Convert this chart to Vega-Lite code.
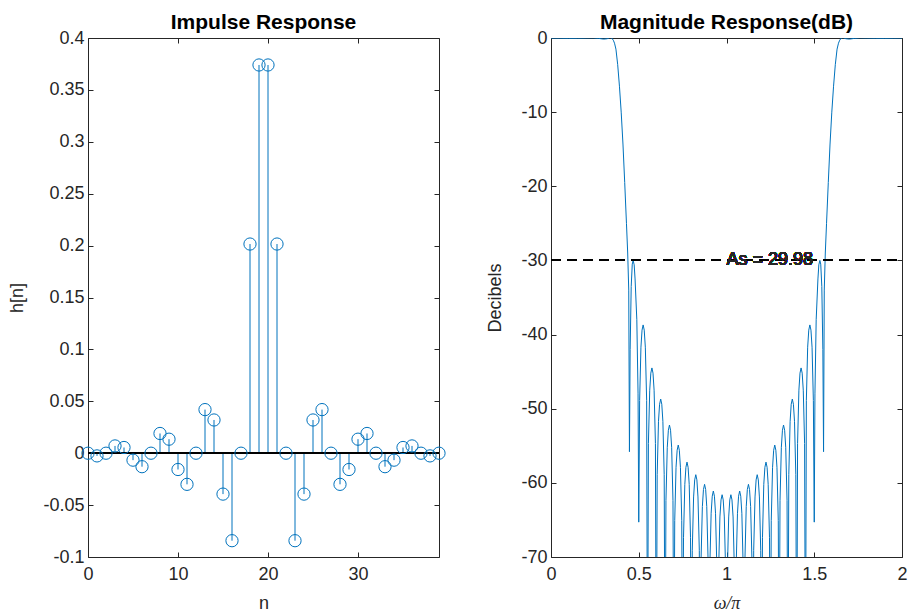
{
  "$schema": "https://vega.github.io/schema/vega-lite/v6.json",
  "background": "white",
  "padding": {"left": 8, "top": 12, "right": 2, "bottom": 1},
  "config": {
    "font": "Liberation Sans",
    "view": {"stroke": null},
    "axis": {
      "grid": false,
      "domainColor": "#262626",
      "domainWidth": 1,
      "tickColor": "#262626",
      "tickWidth": 1,
      "tickSize": -5,
      "labelColor": "#262626",
      "titleColor": "#262626",
      "labelFont": "Liberation Sans",
      "labelFontSize": 18,
      "titleFont": "Liberation Sans",
      "titleFontSize": 18,
      "titleFontWeight": "normal",
      "labelFlush": false
    },
    "axisX": {"labelPadding": 13, "titlePadding": 11, "labelFlush": false},
    "axisY": {"labelPadding": 9, "titlePadding": 16},
    "title": {"font": "Liberation Sans", "fontSize": 21, "fontWeight": "bold", "color": "#000000", "offset": -4},
    "concat": {"spacing": 38}
  },
  "datasets": {
    "h": [
      {"n": 0, "h": 0.0},
      {"n": 1, "h": -0.0026},
      {"n": 2, "h": 0.0},
      {"n": 3, "h": 0.007},
      {"n": 4, "h": 0.0055},
      {"n": 5, "h": -0.0067},
      {"n": 6, "h": -0.013},
      {"n": 7, "h": 0.0},
      {"n": 8, "h": 0.019},
      {"n": 9, "h": 0.0135},
      {"n": 10, "h": -0.0157},
      {"n": 11, "h": -0.030},
      {"n": 12, "h": 0.0},
      {"n": 13, "h": 0.042},
      {"n": 14, "h": 0.032},
      {"n": 15, "h": -0.0394},
      {"n": 16, "h": -0.0843},
      {"n": 17, "h": 0.0},
      {"n": 18, "h": 0.2015},
      {"n": 19, "h": 0.374},
      {"n": 20, "h": 0.374},
      {"n": 21, "h": 0.2015},
      {"n": 22, "h": 0.0},
      {"n": 23, "h": -0.0843},
      {"n": 24, "h": -0.0394},
      {"n": 25, "h": 0.032},
      {"n": 26, "h": 0.042},
      {"n": 27, "h": 0.0},
      {"n": 28, "h": -0.030},
      {"n": 29, "h": -0.0157},
      {"n": 30, "h": 0.0135},
      {"n": 31, "h": 0.019},
      {"n": 32, "h": 0.0},
      {"n": 33, "h": -0.013},
      {"n": 34, "h": -0.0067},
      {"n": 35, "h": 0.0055},
      {"n": 36, "h": 0.007},
      {"n": 37, "h": 0.0},
      {"n": 38, "h": -0.0026},
      {"n": 39, "h": 0.0}
    ],
    "mag": [
      {"w": 0, "db": 0}, {"w": 0.05, "db": -0.02}, {"w": 0.1, "db": -0.04}, {"w": 0.15, "db": -0.03},
      {"w": 0.2, "db": 0}, {"w": 0.24, "db": 0.02}, {"w": 0.27, "db": -0.05}, {"w": 0.3, "db": -0.15},
      {"w": 0.32, "db": -0.1}, {"w": 0.335, "db": 0.05}, {"w": 0.345, "db": 0.02}, {"w": 0.355, "db": -0.3},
      {"w": 0.362, "db": -0.7}, {"w": 0.37, "db": -1.5}, {"w": 0.38, "db": -3.6}, {"w": 0.39, "db": -6.5},
      {"w": 0.4, "db": -10}, {"w": 0.41, "db": -14.3}, {"w": 0.42, "db": -19.5}, {"w": 0.43, "db": -25},
      {"w": 0.437, "db": -29}, {"w": 0.443, "db": -34}, {"w": 0.447, "db": -55.8},
      {"w": 0.451, "db": -42}, {"w": 0.457, "db": -33.5}, {"w": 0.463, "db": -30.5}, {"w": 0.468, "db": -30},
      {"w": 0.474, "db": -30.6}, {"w": 0.479, "db": -32.5}, {"w": 0.489, "db": -38}, {"w": 0.496, "db": -48},
      {"w": 0.5, "db": -65.3},
      {"w": 0.505, "db": -48.9}, {"w": 0.5125, "db": -41.7}, {"w": 0.51875, "db": -39.4}, {"w": 0.525, "db": -38.7}, {"w": 0.53125, "db": -39.4}, {"w": 0.5375, "db": -41.7}, {"w": 0.545, "db": -48.9}, {"w": 0.55, "db": -90},
      {"w": 0.555, "db": -54.7}, {"w": 0.5625, "db": -47.5}, {"w": 0.56875, "db": -45.2}, {"w": 0.575, "db": -44.5}, {"w": 0.58125, "db": -45.2}, {"w": 0.5875, "db": -47.5}, {"w": 0.595, "db": -54.7}, {"w": 0.6, "db": -90},
      {"w": 0.605, "db": -58.9}, {"w": 0.6125, "db": -51.7}, {"w": 0.61875, "db": -49.4}, {"w": 0.625, "db": -48.7}, {"w": 0.63125, "db": -49.4}, {"w": 0.6375, "db": -51.7}, {"w": 0.645, "db": -58.9}, {"w": 0.65, "db": -90},
      {"w": 0.655, "db": -62.4}, {"w": 0.6625, "db": -55.2}, {"w": 0.66875, "db": -52.9}, {"w": 0.675, "db": -52.2}, {"w": 0.68125, "db": -52.9}, {"w": 0.6875, "db": -55.2}, {"w": 0.695, "db": -62.4}, {"w": 0.7, "db": -90},
      {"w": 0.705, "db": -65.1}, {"w": 0.7125, "db": -57.9}, {"w": 0.71875, "db": -55.6}, {"w": 0.725, "db": -54.9}, {"w": 0.73125, "db": -55.6}, {"w": 0.7375, "db": -57.9}, {"w": 0.745, "db": -65.1}, {"w": 0.75, "db": -90},
      {"w": 0.755, "db": -67.4}, {"w": 0.7625, "db": -60.2}, {"w": 0.76875, "db": -57.9}, {"w": 0.775, "db": -57.2}, {"w": 0.78125, "db": -57.9}, {"w": 0.7875, "db": -60.2}, {"w": 0.795, "db": -67.4}, {"w": 0.8, "db": -90},
      {"w": 0.805, "db": -69.1}, {"w": 0.8125, "db": -61.9}, {"w": 0.81875, "db": -59.6}, {"w": 0.825, "db": -58.9}, {"w": 0.83125, "db": -59.6}, {"w": 0.8375, "db": -61.9}, {"w": 0.845, "db": -69.1}, {"w": 0.85, "db": -90},
      {"w": 0.855, "db": -70.4}, {"w": 0.8625, "db": -63.2}, {"w": 0.86875, "db": -60.9}, {"w": 0.875, "db": -60.2}, {"w": 0.88125, "db": -60.9}, {"w": 0.8875, "db": -63.2}, {"w": 0.895, "db": -70.4}, {"w": 0.9, "db": -90},
      {"w": 0.905, "db": -71.3}, {"w": 0.9125, "db": -64.1}, {"w": 0.91875, "db": -61.8}, {"w": 0.925, "db": -61.1}, {"w": 0.93125, "db": -61.8}, {"w": 0.9375, "db": -64.1}, {"w": 0.945, "db": -71.3}, {"w": 0.95, "db": -90},
      {"w": 0.955, "db": -71.8}, {"w": 0.9625, "db": -64.6}, {"w": 0.96875, "db": -62.3}, {"w": 0.975, "db": -61.6}, {"w": 0.98125, "db": -62.3}, {"w": 0.9875, "db": -64.6}, {"w": 0.995, "db": -71.8}, {"w": 1.0, "db": -90},
      {"w": 1.005, "db": -71.8}, {"w": 1.0125, "db": -64.6}, {"w": 1.01875, "db": -62.3}, {"w": 1.025, "db": -61.6}, {"w": 1.03125, "db": -62.3}, {"w": 1.0375, "db": -64.6}, {"w": 1.045, "db": -71.8}, {"w": 1.05, "db": -90},
      {"w": 1.055, "db": -71.3}, {"w": 1.0625, "db": -64.1}, {"w": 1.06875, "db": -61.8}, {"w": 1.075, "db": -61.1}, {"w": 1.08125, "db": -61.8}, {"w": 1.0875, "db": -64.1}, {"w": 1.095, "db": -71.3}, {"w": 1.1, "db": -90},
      {"w": 1.105, "db": -70.4}, {"w": 1.1125, "db": -63.2}, {"w": 1.11875, "db": -60.9}, {"w": 1.125, "db": -60.2}, {"w": 1.13125, "db": -60.9}, {"w": 1.1375, "db": -63.2}, {"w": 1.145, "db": -70.4}, {"w": 1.15, "db": -90},
      {"w": 1.155, "db": -69.1}, {"w": 1.1625, "db": -61.9}, {"w": 1.16875, "db": -59.6}, {"w": 1.175, "db": -58.9}, {"w": 1.18125, "db": -59.6}, {"w": 1.1875, "db": -61.9}, {"w": 1.195, "db": -69.1}, {"w": 1.2, "db": -90},
      {"w": 1.205, "db": -67.4}, {"w": 1.2125, "db": -60.2}, {"w": 1.21875, "db": -57.9}, {"w": 1.225, "db": -57.2}, {"w": 1.23125, "db": -57.9}, {"w": 1.2375, "db": -60.2}, {"w": 1.245, "db": -67.4}, {"w": 1.25, "db": -90},
      {"w": 1.255, "db": -65.1}, {"w": 1.2625, "db": -57.9}, {"w": 1.26875, "db": -55.6}, {"w": 1.275, "db": -54.9}, {"w": 1.28125, "db": -55.6}, {"w": 1.2875, "db": -57.9}, {"w": 1.295, "db": -65.1}, {"w": 1.3, "db": -90},
      {"w": 1.305, "db": -62.4}, {"w": 1.3125, "db": -55.2}, {"w": 1.31875, "db": -52.9}, {"w": 1.325, "db": -52.2}, {"w": 1.33125, "db": -52.9}, {"w": 1.3375, "db": -55.2}, {"w": 1.345, "db": -62.4}, {"w": 1.35, "db": -90},
      {"w": 1.355, "db": -58.9}, {"w": 1.3625, "db": -51.7}, {"w": 1.36875, "db": -49.4}, {"w": 1.375, "db": -48.7}, {"w": 1.38125, "db": -49.4}, {"w": 1.3875, "db": -51.7}, {"w": 1.395, "db": -58.9}, {"w": 1.4, "db": -90},
      {"w": 1.405, "db": -54.7}, {"w": 1.4125, "db": -47.5}, {"w": 1.41875, "db": -45.2}, {"w": 1.425, "db": -44.5}, {"w": 1.43125, "db": -45.2}, {"w": 1.4375, "db": -47.5}, {"w": 1.445, "db": -54.7}, {"w": 1.45, "db": -90},
      {"w": 1.455, "db": -48.9}, {"w": 1.4625, "db": -41.7}, {"w": 1.46875, "db": -39.4}, {"w": 1.475, "db": -38.7}, {"w": 1.48125, "db": -39.4}, {"w": 1.4875, "db": -41.7}, {"w": 1.495, "db": -48.9}, {"w": 1.5, "db": -65.3},
      {"w": 1.504, "db": -48}, {"w": 1.511, "db": -38}, {"w": 1.521, "db": -32.5}, {"w": 1.526, "db": -30.6}, {"w": 1.532, "db": -30}, {"w": 1.537, "db": -30.5}, {"w": 1.543, "db": -33.5}, {"w": 1.549, "db": -42},
      {"w": 1.553, "db": -55.8},
      {"w": 1.557, "db": -34}, {"w": 1.563, "db": -29}, {"w": 1.57, "db": -25}, {"w": 1.58, "db": -19.5}, {"w": 1.59, "db": -14.3},
      {"w": 1.6, "db": -10}, {"w": 1.61, "db": -6.5}, {"w": 1.62, "db": -3.6}, {"w": 1.63, "db": -1.5}, {"w": 1.638, "db": -0.7},
      {"w": 1.645, "db": -0.3}, {"w": 1.655, "db": 0.02}, {"w": 1.665, "db": 0.05}, {"w": 1.68, "db": -0.1}, {"w": 1.7, "db": -0.15},
      {"w": 1.73, "db": -0.05}, {"w": 1.76, "db": 0.02}, {"w": 1.8, "db": 0}, {"w": 1.85, "db": -0.03}, {"w": 1.9, "db": -0.04},
      {"w": 1.95, "db": -0.02}, {"w": 2, "db": 0}
    ]
  },
  "hconcat": [
    {
      "width": 351,
      "height": 519,
      "title": "Impulse Response",
      "data": {"name": "h"},
      "resolve": {"axis": {"x": "independent", "y": "independent"}},
      "layer": [
        {
          "mark": {"type": "rule", "color": "#0072BD", "strokeWidth": 1},
          "encoding": {
            "x": {"field": "n", "type": "quantitative", "scale": {"domain": [0, 39], "nice": false, "zero": false},
                  "axis": {"orient": "bottom", "values": [0, 10, 20, 30], "title": "n", "labelExpr": "'' + datum.value"}},
            "y": {"field": "h", "type": "quantitative", "scale": {"domain": [-0.1, 0.4], "nice": false, "zero": false},
                  "axis": {"orient": "left", "values": [-0.1, -0.05, 0, 0.05, 0.1, 0.15, 0.2, 0.25, 0.3, 0.35, 0.4], "title": "h[n]", "labelExpr": "'' + datum.value"}},
            "y2": {"datum": 0}
          }
        },
        {
          "mark": {"type": "rule", "color": "#000000", "strokeWidth": 1},
          "encoding": {
            "x": {"datum": 0, "type": "quantitative", "axis": {"orient": "top", "values": [0, 10, 20, 30], "labels": false, "title": null}},
            "x2": {"datum": 39},
            "y": {"datum": 0, "type": "quantitative", "axis": {"orient": "right", "values": [-0.1, -0.05, 0, 0.05, 0.1, 0.15, 0.2, 0.25, 0.3, 0.35, 0.4], "labels": false, "title": null}}
          }
        },
        {
          "mark": {"type": "point", "shape": "circle", "filled": false, "size": 150, "color": "#0072BD", "strokeWidth": 1, "opacity": 1},
          "encoding": {
            "x": {"field": "n", "type": "quantitative", "axis": null},
            "y": {"field": "h", "type": "quantitative", "axis": null}
          }
        }
      ]
    },
    {
      "width": 351,
      "height": 519,
      "title": "Magnitude Response(dB)",
      "data": {"name": "mag"},
      "resolve": {"axis": {"x": "independent", "y": "independent"}},
      "layer": [
        {
          "mark": {"type": "line", "color": "#0072BD", "strokeWidth": 1, "clip": true},
          "encoding": {
            "x": {"field": "w", "type": "quantitative", "scale": {"domain": [0, 2], "nice": false, "zero": false},
                  "axis": {"orient": "bottom", "values": [0, 0.5, 1, 1.5, 2], "title": "ω/π", "titleFont": "Liberation Serif", "titleFontStyle": "italic", "labelExpr": "'' + datum.value"}},
            "y": {"field": "db", "type": "quantitative", "scale": {"domain": [-70, 0], "nice": false, "zero": false},
                  "axis": {"orient": "left", "values": [-70, -60, -50, -40, -30, -20, -10, 0], "title": "Decibels", "labelExpr": "'' + datum.value"}}
          }
        },
        {
          "mark": {"type": "rule", "color": "#000000", "strokeWidth": 1, "strokeDash": [10, 6]},
          "encoding": {
            "x": {"datum": 0, "type": "quantitative", "axis": {"orient": "top", "values": [0, 0.5, 1, 1.5, 2], "labels": false, "title": null}},
            "x2": {"datum": 2},
            "y": {"datum": -30, "type": "quantitative", "axis": {"orient": "right", "values": [-70, -60, -50, -40, -30, -20, -10, 0], "labels": false, "title": null}}
          }
        },
        {
          "mark": {"type": "text", "text": "As = 29.98", "align": "left", "baseline": "middle", "fontSize": 18, "font": "Liberation Sans", "color": "#262626"},
          "encoding": {
            "x": {"datum": 1, "type": "quantitative", "axis": null},
            "y": {"datum": -30, "type": "quantitative", "axis": null}
          }
        }
      ]
    }
  ]
}
